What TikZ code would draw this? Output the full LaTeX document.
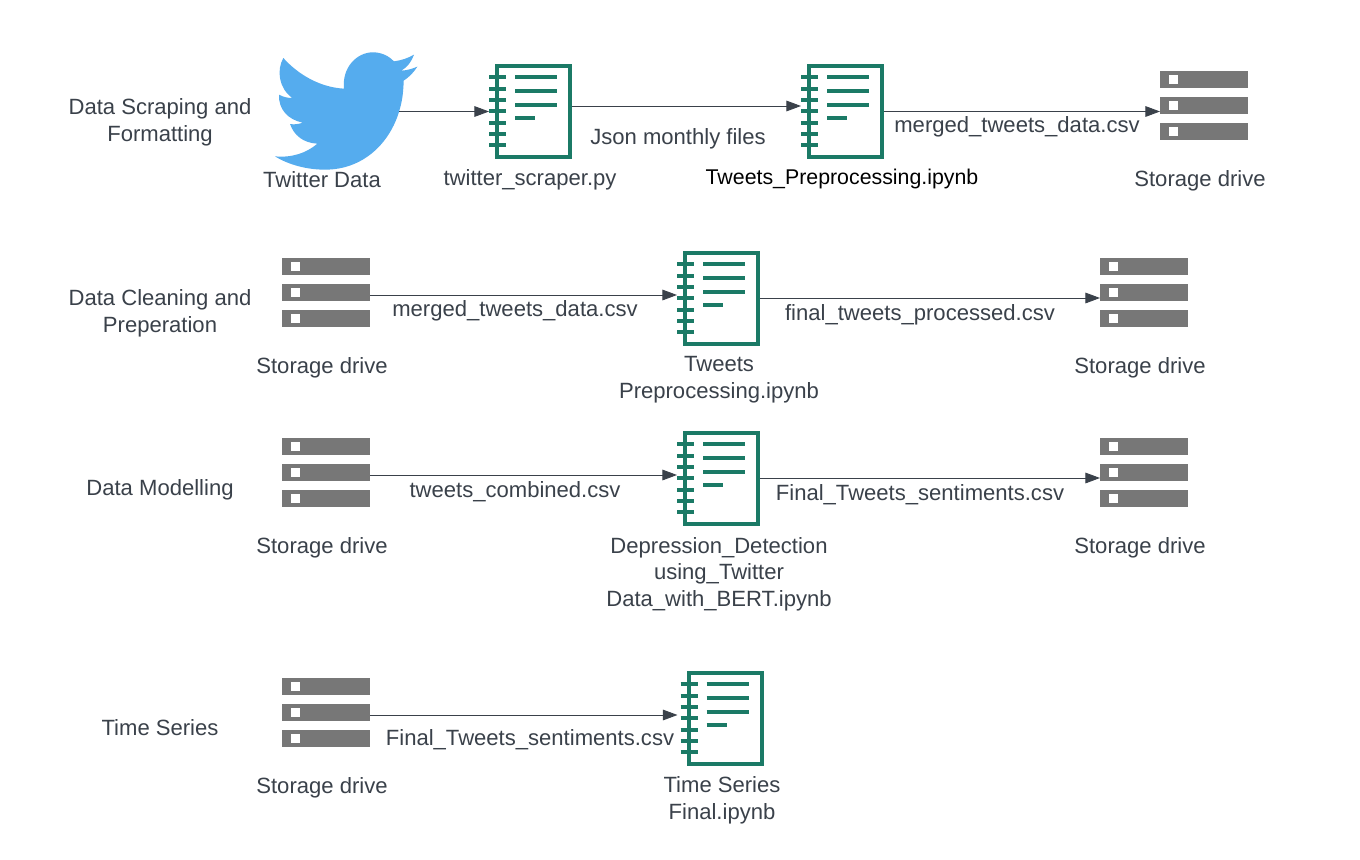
\documentclass[tikz,border=0pt]{standalone}
\usepackage{fontspec}
\setmainfont{Liberation Sans}
\usetikzlibrary{arrows.meta,calc}
\definecolor{nbgreen}{HTML}{1B7A66}
\definecolor{srvgray}{HTML}{777777}
\definecolor{inkc}{HTML}{3A414A}
\definecolor{birdc}{HTML}{55ACEE}
\tikzset{
  conn/.style={draw=inkc,line width=0.7pt,-{Triangle[length=11pt,width=8pt]}},
  lab/.style={text=inkc,font=\fontsize{16.55}{20}\selectfont,align=center,inner sep=0pt,anchor=center,yshift=-1.5pt},
  iconbox/.style={inner sep=0pt,outer sep=0pt,draw=none},
  nbline/.style={draw=nbgreen,line width=3pt}
}
\newcommand{\notebookicon}[3]{%
  \begin{scope}[shift={(#2,#3)}]
    \draw[nbline] (2,2) rectangle (75,93);
    \foreach \k in {0,...,6} \draw[nbline] (-6,13.3+11.33*\k) -- (11,13.3+11.33*\k);
    \draw[nbline] (20,13.3) -- (62,13.3);
    \draw[nbline] (20,27) -- (62,27);
    \draw[nbline] (20,40.7) -- (62,40.7);
    \draw[nbline] (20,54) -- (40,54);
    \node[iconbox,minimum width=62.25pt,minimum height=71.25pt] (#1) at (35.5,47.5) {};
  \end{scope}}
\newcommand{\servericon}[3]{%
  \begin{scope}[shift={(#2,#3)}]
    \foreach \k in {0,26,52} {
      \fill[srvgray] (0,\k) rectangle (88,\k+17.3);
      \fill[white] (9,\k+4.4) rectangle (18,\k+13);
    }
    \node[iconbox,minimum width=66pt,minimum height=51.75pt] (#1) at (44,34.5) {};
  \end{scope}}
\begin{document}
\begin{tikzpicture}[x=0.75pt,y=-0.75pt]
\useasboundingbox[fill=white] (0,0) rectangle (1360,860);
% bird
\begin{scope}[shift={(270,48)},x=0.25pt,y=-0.25pt]
\fill[birdc] (40,30)
  .. controls (85,80) and (150,118) .. (222,122)
  .. controls (215,60) and (260,12) .. (310,13)
  .. controls (335,13) and (358,25) .. (372,40)
  .. controls (395,37) and (415,30) .. (432,20)
  .. controls (425,40) and (412,58) .. (394,68)
  .. controls (412,67) and (428,62) .. (442,56)
  .. controls (432,72) and (418,87) .. (401,98)
  .. controls (400,140) and (395,165) .. (388,188)
  .. controls (360,285) and (280,365) .. (165,365)
  .. controls (110,365) and (55,350) .. (15,325)
  .. controls (65,330) and (110,315) .. (142,287)
  .. controls (100,285) and (72,262) .. (60,228)
  .. controls (72,230) and (85,229) .. (98,224)
  .. controls (55,215) and (25,185) .. (27,140)
  .. controls (40,147) and (52,150) .. (67,150)
  .. controls (25,120) and (20,65) .. (40,30) -- cycle;
\end{scope}
\node[iconbox,minimum width=93pt,minimum height=60pt] (bird) at (337,111.5) {};
% icons
\notebookicon{nbA}{495}{64}
\notebookicon{nbB}{807}{64}
\notebookicon{nbC}{683}{251}
\notebookicon{nbD}{683}{431}
\notebookicon{nbE}{686.5}{671}
\servericon{srvA}{1160}{71}
\servericon{srvB}{282}{258}
\servericon{srvC}{1100}{258}
\servericon{srvD}{282}{438}
\servericon{srvE}{1100}{438}
\servericon{srvF}{282}{678}
% connectors
\draw[conn] (bird.east) -- (nbA.west);
\draw[conn] ($(nbA.east)+(0,-5.5)$) -- ($(nbB.west)+(0,-5.5)$);
\draw[conn] (nbB.east) -- ($(srvA.west)+(0,6)$);
\draw[conn] ($(srvB.east)+(0,2.5)$) -- ($(nbC.west)+(0,-3.5)$);
\draw[conn] ($(nbC.east)+(0,-0.5)$) -- ($(srvC.west)+(0,5.5)$);
\draw[conn] ($(srvD.east)+(0,2.5)$) -- ($(nbD.west)+(0,-3.5)$);
\draw[conn] ($(nbD.east)+(0,-0.5)$) -- ($(srvE.west)+(0,5.5)$);
\draw[conn] ($(srvF.east)+(0,2.5)$) -- ($(nbE.west)+(-3,-3.5)$);
% labels
\node[lab] (t1) at (160,120) {Data Scraping and\\Formatting};
\node[lab] (t2) at (322,178) {Twitter Data};
\node[lab] (t3) at (530,178) {twitter\_scraper.py};
\node[lab] (t4) at (678,137) {Json monthly files};
\node[lab,text=black,font=\fontsize{16}{20}\selectfont] (t5) at (842,177) {Tweets\_Preprocessing.ipynb};
\node[lab] (t6) at (1017,125) {merged\_tweets\_data.csv};
\node[lab] (t7) at (1200,179) {Storage drive};
\node[lab] (t8) at (160,311) {Data Cleaning and\\Preperation};
\node[lab] (t9) at (322,366) {Storage drive};
\node[lab] (t10) at (515,309) {merged\_tweets\_data.csv};
\node[lab] (t11) at (719,378) {Tweets\\Preprocessing.ipynb};
\node[lab] (t12) at (920,313) {final\_tweets\_processed.csv};
\node[lab] (t13) at (1140,366) {Storage drive};
\node[lab] (t14) at (160,488) {Data Modelling};
\node[lab] (t15) at (322,546) {Storage drive};
\node[lab] (t16) at (515,490) {tweets\_combined.csv};
\node[lab] (t17) at (719,572) {Depression\_Detection\\using\_Twitter\\Data\_with\_BERT.ipynb};
\node[lab] (t18) at (920,493) {Final\_Tweets\_sentiments.csv};
\node[lab] (t19) at (1140,546) {Storage drive};
\node[lab] (t20) at (160,726) {Time Series};
\node[lab] (t21) at (322,786) {Storage drive};
\node[lab] (t22) at (530,738) {Final\_Tweets\_sentiments.csv};
\node[lab] (t23) at (722,798) {Time Series\\Final.ipynb};
\end{tikzpicture}
\end{document}
